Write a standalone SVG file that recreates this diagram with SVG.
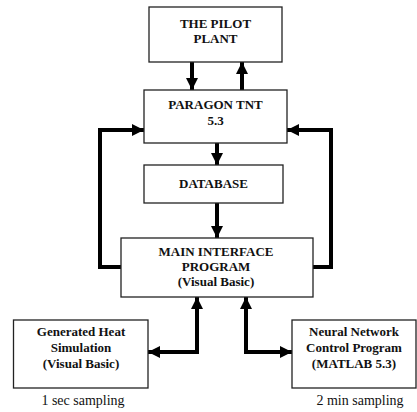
<svg xmlns="http://www.w3.org/2000/svg" width="417" height="412" viewBox="0 0 417 412">
<style>
.box{fill:#fff;stroke:#222;stroke-width:1.3}
.t{font-family:"Liberation Serif","Times New Roman",serif;font-weight:bold;font-size:13px;fill:#111;text-anchor:middle}
.s{font-family:"Liberation Serif","Times New Roman",serif;font-size:14px;fill:#111;text-anchor:middle}
.c{fill:none;stroke:#000;stroke-width:4;stroke-linejoin:miter}
</style>
<defs>
<marker id="ah" markerUnits="userSpaceOnUse" markerWidth="12" markerHeight="12" viewBox="0 0 12 12" refX="12" refY="6" orient="auto-start-reverse">
<path d="M0,0 L12,6 L0,12 Z" fill="#000"/>
</marker>
</defs>
<rect width="417" height="412" fill="#fff"/>
<g id="connectors">
<line class="c" x1="192" y1="62" x2="192" y2="90" marker-end="url(#ah)"/>
<line class="c" x1="242" y1="90" x2="242" y2="62" marker-end="url(#ah)"/>
<line class="c" x1="217" y1="143" x2="217" y2="165" marker-end="url(#ah)"/>
<line class="c" x1="217" y1="203" x2="217" y2="238" marker-end="url(#ah)"/>
<polyline class="c" points="121,267 100,267 100,130 144,130" marker-end="url(#ah)"/>
<polyline class="c" points="313,267 331,267 331,130 287,130" marker-end="url(#ah)"/>
<polyline class="c" points="148,352 197,352 197,297" marker-start="url(#ah)" marker-end="url(#ah)"/>
<polyline class="c" points="246,297 246,352 292,352" marker-start="url(#ah)" marker-end="url(#ah)"/>
</g>
<g id="plant">
<rect class="box" x="149" y="7" width="133" height="55"/>
<text class="t" x="215.5" y="28">THE PILOT</text>
<text class="t" x="215.5" y="43">PLANT</text>
</g>
<g id="paragon">
<rect class="box" x="144" y="90" width="143" height="53"/>
<text class="t" x="215.5" y="109">PARAGON TNT</text>
<text class="t" x="215.5" y="125">5.3</text>
</g>
<g id="database">
<rect class="box" x="144" y="165" width="139" height="38"/>
<text class="t" x="213.5" y="188">DATABASE</text>
</g>
<g id="main">
<rect class="box" x="121" y="238" width="192" height="59"/>
<text class="t" x="216" y="256">MAIN INTERFACE</text>
<text class="t" x="216" y="271">PROGRAM</text>
<text class="t" x="216" y="286">(Visual Basic)</text>
</g>
<g id="heat">
<rect class="box" x="13.5" y="320" width="134.5" height="68"/>
<text class="t" x="81" y="336">Generated Heat</text>
<text class="t" x="81" y="352">Simulation</text>
<text class="t" x="81" y="368">(Visual Basic)</text>
<text class="s" x="83" y="405">1 sec sampling</text>
</g>
<g id="neural">
<rect class="box" x="292" y="320" width="124" height="68"/>
<text class="t" x="354" y="336">Neural Network</text>
<text class="t" x="354" y="352">Control Program</text>
<text class="t" x="354" y="368">(MATLAB 5.3)</text>
<text class="s" x="360" y="405">2 min sampling</text>
</g>
</svg>
